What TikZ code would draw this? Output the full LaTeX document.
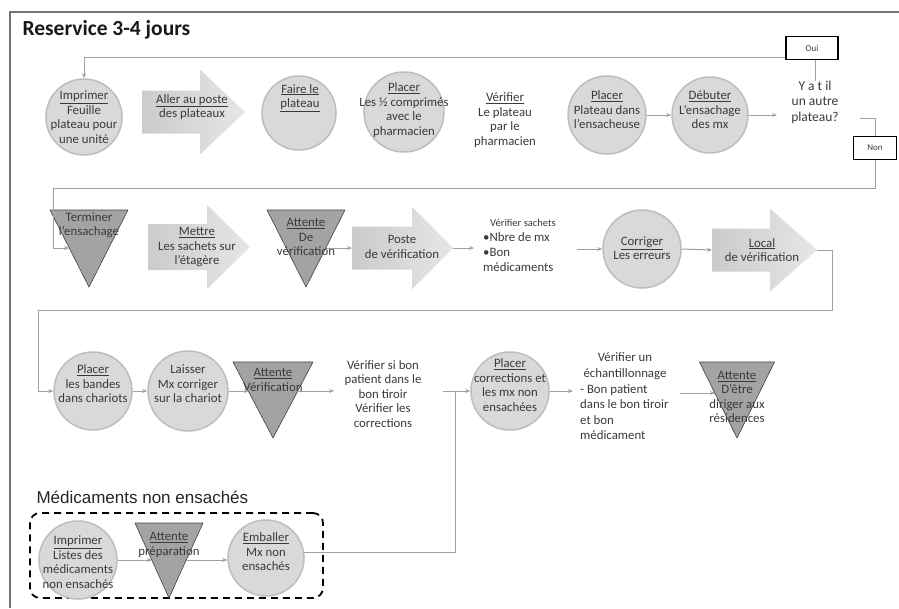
\documentclass[tikz,border=0pt]{standalone}
\usepackage{fontspec}
\setmainfont{Carlito}
\newfontfamily\arialf{Liberation Sans}
\usetikzlibrary{arrows.meta,calc}
\definecolor{circfill}{HTML}{D9D9D9}
\definecolor{circline}{HTML}{BDBDBD}
\definecolor{trifill}{HTML}{A3A3A3}
\definecolor{conncol}{HTML}{A0A0A0}
\definecolor{txt}{HTML}{3A3A3A}
\definecolor{arrL}{HTML}{CBCBCB}
\definecolor{arrR}{HTML}{E6E6E6}
\newcommand{\mytri}[4]{\draw[tri] ({#1-#2},#3) -- ({#1+#2},#3) -- (#1,#4) -- cycle;}
\newcommand{\myblockarrow}[7]{%
  \path[blk] (#2,{#5-#6}) -- (#3,{#5-#6}) -- (#3,{#5-#7}) -- (#4,#5) -- (#3,{#5+#7}) -- (#3,{#5+#6}) -- (#2,{#5+#6}) -- cycle;
  \coordinate (#1-tip) at (#4,#5);
  \coordinate (#1-tail) at (#2,#5);}
\begin{document}
\begin{tikzpicture}[x=1pt,y=-1pt,
  circ/.style={circle,draw=circline,line width=1.5pt,fill=circfill,inner sep=0pt,minimum size=#1},
  circ/.default=78pt,
  lbl/.style={text=txt,align=center,inner sep=0pt,font=\fontsize{12.8}{14.5}\selectfont},
  tri/.style={fill=trifill,draw=black!75,line width=0.6pt,line join=round},
  conn/.style={draw=conncol,line width=1pt},
  arr/.style={conn,-{Stealth[length=5pt,width=4pt]}},
  blk/.style={left color=arrL,right color=arrR},
  obox/.style={draw=black,line width=1.3pt,minimum width=#1,minimum height=23pt,inner sep=0pt,font=\fontsize{9}{10}\selectfont,text=txt},
  obox/.default=50pt,
]
\useasboundingbox (0,0) rectangle (899,608);
\fill[white] (0,0) rectangle (899,608);
% frame
\draw[draw=black!55,line width=1.2pt] (10,608) -- (10,12) -- (899,12);
\node[anchor=west,font=\bfseries\fontsize{21.5}{25}\selectfont,text=black!90] (title) at (19,30) {Reservice 3-4 jours};

% ---------- Row 1
\node[circ=76pt] (imp1) at (84,117) {};
\node[lbl] (imp1t) at (84,117) {\underline{Imprimer}\\Feuille\\plateau pour\\une unité};
\myblockarrow{aller}{142}{200}{245}{112}{21.5}{42.5}
\node[lbl] (allert) at (192,107) {\underline{Aller au poste}\\des plateaux};
\node[circ=74pt] (faire) at (299,113) {};
\node[lbl] (fairet) at (300,98) {\underline{Faire le}\\\underline{plateau}};
\node[circ=80pt] (plac1) at (404,112) {};
\node[lbl] (plac1t) at (404,110) {\underline{Placer}\\Les ½ comprimés\\avec le\\pharmacien};
\node[lbl] (verif1) at (505,120) {\underline{Vérifier}\\Le plateau\\par le\\pharmacien};
\node[circ=78pt] (plac2) at (607,115) {};
\node[lbl] (plac2t) at (607,110) {\underline{Placer}\\Plateau dans\\l'ensacheuse};
\node[circ=76pt] (deb) at (710,115) {};
\node[lbl] (debt) at (710,110) {\underline{Débuter}\\L'ensachage\\des mx};
\node[lbl,font=\fontsize{13.5}{15.5}\selectfont] (q) at (815,102) {Y a t il\\un autre\\plateau?};
\node[obox=52pt] (oui) at (812,48) {Oui};
\node[obox=43pt] (non) at (875,148) {Non};
\coordinate (qin) at (777,115);
\coordinate (qout) at (860,118);
\draw[arr] (plac2.east) -- (deb.west);
\draw[arr] (deb.east) -- (qin);
\draw[conn] (q.north) -- (q.north |- oui.south);
\draw[arr] ($(oui.south west)+(0,-3)$) -| (imp1.north);
\draw[conn] (qout) -| (non.north);

% ---------- Row 2
\mytri{89}{39}{210}{287}
\node[lbl] (t1t) at (89,225) {Terminer\\l'ensachage};
\coordinate (t1in) at (69,248);
\draw[arr] (non.south) |- (53,188) |- (t1in);
\myblockarrow{mettre}{148}{207}{250}{247}{23}{42}
\node[lbl] (mettret) at (197,247) {\underline{Mettre}\\Les sachets sur\\l'étagère};
\mytri{306}{39}{210}{287}
\node[lbl] (t2t) at (306,237) {\underline{Attente}\\De\\vérification};
\myblockarrow{poste}{352}{412}{453}{248}{21.5}{41.5}
\node[lbl] (postet) at (402,247) {Poste\\de vérification};
\coordinate (t2out) at (326,248);
\draw[arr] (t2out) -- (poste-tail);
\node[lbl,align=left,anchor=west,font=\fontsize{12.8}{15}\selectfont] (sach) at (483,245) {\hspace{7pt}{\fontsize{10.5}{12}\selectfont Vérifier sachets}\\•Nbre de mx\\•Bon\\médicaments};
\coordinate (sachin) at (474,248);
\coordinate (sachout) at (577,249);
\draw[arr] (poste-tip) -- (sachin);
\node[circ=78pt] (corr) at (642,249) {};
\node[lbl] (corrt) at (642,248) {\underline{Corriger}\\Les erreurs};
\draw[arr] (sachout) -- (corr.west);
\myblockarrow{local}{712}{770}{817}{250}{21.5}{41.5}
\node[lbl] (localt) at (762,250) {\underline{Local}\\de vérification};
\draw[arr] (corr.east) -- (local-tail);

% ---------- Row 3
\node[circ=78pt] (plac3) at (93,391) {};
\node[lbl] (plac3t) at (93,384) {\underline{Placer}\\les bandes\\dans chariots};
\draw[arr] (local-tip) -- (832,250) |- (38,310) |- (plac3.west);
\node[circ=80pt] (laiss) at (188,391) {};
\node[lbl] (laisst) at (188,384) {Laisser\\Mx corriger\\sur la chariot};
\draw[arr] (plac3.east) -- (laiss.west);
\mytri{273}{40}{362}{438}
\node[lbl] (t3t) at (273,380) {\underline{Attente}\\Vérification};
\coordinate (t3in) at (249,391);
\coordinate (t3out) at (297,391);
\draw[arr] (laiss.east) -- (t3in);
\node[lbl] (verif2) at (383,394) {Vérifier si bon\\patient dans le\\bon tiroir\\Vérifier les\\corrections};
\coordinate (v2in) at (334,391);
\coordinate (v2out) at (443,391);
\coordinate (junc) at (455,391);
\draw[arr] (t3out) -- (v2in);
\node[circ=78pt] (plac4) at (510,391) {};
\node[lbl] (plac4t) at (510,385) {\underline{Placer}\\corrections et\\les mx non\\ensachées};
\draw[arr] (v2out) -- (plac4.west);
\node[lbl,font=\fontsize{12.8}{15.5}\selectfont] (ech1) at (625,366) {Vérifier un\\échantillonnage};
\node[lbl,align=left,anchor=west,font=\fontsize{12.8}{15.5}\selectfont] (ech2) at (580,412) {- Bon patient\\dans le bon tiroir\\et bon\\médicament};
\coordinate (echin) at (573,391);
\draw[arr] (plac4.east) -- (echin);
\mytri{737}{37.5}{362}{438}
\node[lbl] (t4t) at (737,397) {\underline{Attente}\\D'être\\diriger aux\\résidences};
\coordinate (echout) at (680,393);
\coordinate (t4in) at (715,393);
\draw[arr] (echout) -- (t4in);

% ---------- Bottom group
\node[anchor=west,font=\arialf\fontsize{17}{20}\selectfont,text=black!85] (medlbl) at (33,497) {Médicaments non ensachés};
\node[draw=black,dashed,dash pattern=on 7pt off 5pt,line width=1.8pt,rounded corners=10pt,minimum width=293pt,minimum height=85pt,inner sep=0pt] (grp) at (176.5,555.5) {};
\node[circ=78pt] (imp2) at (78,560) {};
\node[lbl] (imp2t) at (78,562) {\underline{Imprimer}\\Listes des\\médicaments\\non ensachés};
\mytri{169}{34}{523}{598}
\node[lbl] (t5t) at (169,545) {\underline{Attente}\\préparation};
\coordinate (t5in) at (152,560);
\coordinate (t5out) at (186,560);
\draw[arr] (imp2.east) -- (t5in);
\node[circ=76pt] (emb) at (266,558) {};
\node[lbl] (embt) at (266,552) {\underline{Emballer}\\Mx non\\ensachés};
\draw[arr] (t5out) -- (emb.west |- t5out);
\coordinate (embout) at (303,552);
\draw[conn] (embout) -| (junc);
\end{tikzpicture}
\end{document}
